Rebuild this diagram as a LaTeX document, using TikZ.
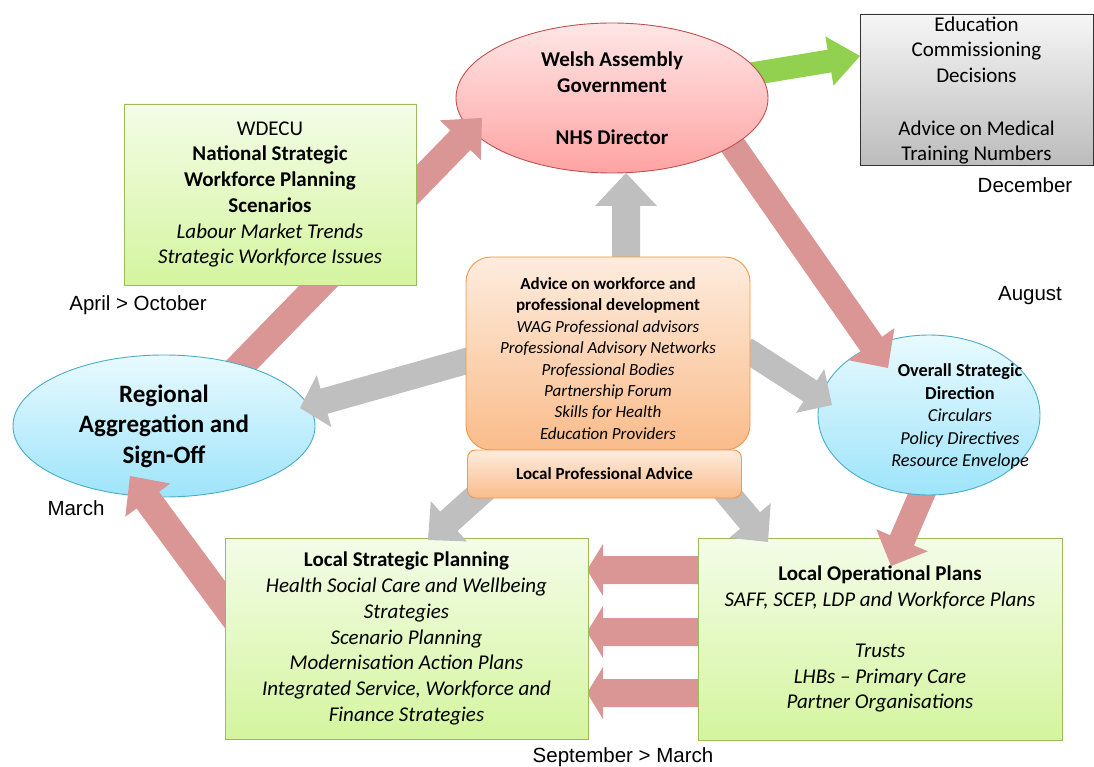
\documentclass[tikz,border=0pt]{standalone}
\usepackage{fontspec}
\setmainfont{Carlito}
\newfontfamily\arialfont{Liberation Sans}
\usetikzlibrary{shapes.geometric,calc}
\definecolor{pinkarr}{RGB}{217,150,148}
\definecolor{greyarr}{RGB}{191,191,191}
\definecolor{greenarr}{RGB}{146,208,80}
\definecolor{wagtop}{RGB}{255,230,230}
\definecolor{wagbot}{RGB}{255,163,163}
\definecolor{wagline}{RGB}{192,80,77}
\definecolor{cyantop}{RGB}{232,250,255}
\definecolor{cyanbot}{RGB}{158,228,250}
\definecolor{cyanline}{RGB}{75,172,198}
\definecolor{grntop}{RGB}{244,252,232}
\definecolor{grnbot}{RGB}{212,245,158}
\definecolor{grnline}{RGB}{155,187,89}
\definecolor{ortop}{RGB}{253,236,222}
\definecolor{orbot}{RGB}{250,188,138}
\definecolor{orline}{RGB}{247,150,70}
\definecolor{gytop}{RGB}{246,246,246}
\definecolor{gybot}{RGB}{188,188,188}
% #1 colour, #2 tail, #3 tip, #4 half shaft width, #5 half head width, #6 head length
\newcommand{\fatarrow}[6]{%
  \fill[#1] ($(#2)!#4!90:(#3)$) -- ($($(#3)!#6!(#2)$)!#4!90:(#3)$)
    -- ($($(#3)!#6!(#2)$)!#5!90:(#3)$) -- (#3)
    -- ($($(#3)!#6!(#2)$)!#5!-90:(#3)$) -- ($($(#3)!#6!(#2)$)!#4!-90:(#3)$)
    -- ($(#2)!#4!-90:(#3)$) -- cycle;}
\begin{document}
\begin{tikzpicture}[x=1pt,y=-1pt,
  gbox/.style={rectangle, draw=grnline, line width=0.9pt, top color=grntop, bottom color=grnbot,
    inner sep=0pt, align=center, text=black, font=\fontsize{21}{25.7}\selectfont},
  obox/.style={rectangle, draw=orline, line width=0.9pt, top color=ortop, bottom color=orbot,
    inner sep=0pt, align=center, text=black},
  cell/.style={ellipse, draw=cyanline, line width=0.9pt, top color=cyantop, bottom color=cyanbot,
    inner sep=0pt},
  lbl/.style={font=\arialfont\fontsize{20.5}{24}\selectfont, text=black, inner sep=0pt}
]
\useasboundingbox (0,0) rectangle (1094,767);
% named end points of the connectors
\coordinate (aTail) at (225,382);  \coordinate (aTip) at (482,118);
\coordinate (bTail) at (722,130);  \coordinate (bTip) at (888,368);
\coordinate (cTail) at (930,475);  \coordinate (cTip) at (891,566);
\coordinate (gTail) at (745,75);   \coordinate (gTip) at (860,56);
\coordinate (eTail) at (240,625);  \coordinate (eTip) at (130,476);
\coordinate (h1Tail) at (705,570); \coordinate (h1Tip) at (587,570);
\coordinate (h2Tail) at (705,632); \coordinate (h2Tip) at (587,632);
\coordinate (h3Tail) at (705,693); \coordinate (h3Tip) at (587,693);
\coordinate (upTail) at (626,262); \coordinate (upTip) at (626,173);
\coordinate (lTail) at (470,360);  \coordinate (lTip) at (300,408);
\coordinate (rTail) at (745,349);  \coordinate (rTip) at (832,405);
\coordinate (dlTail) at (487,487); \coordinate (dlTip) at (428,540);
\coordinate (drTail) at (722,487); \coordinate (drTip) at (768,542);

% local operational plans -> local strategic planning
\fatarrow{pinkarr}{h1Tail}{h1Tip}{14pt}{26pt}{16pt}
\fatarrow{pinkarr}{h2Tail}{h2Tip}{14pt}{26pt}{16pt}
\fatarrow{pinkarr}{h3Tail}{h3Tip}{14pt}{26pt}{16pt}

\node[gbox, minimum width=364pt, minimum height=202pt] (lop) at (880,639)
 {\textbf{Local Operational Plans}\\\textit{SAFF, SCEP, LDP and Workforce Plans}\\[25.7pt]
  \textit{Trusts}\\\textit{LHBs – Primary Care}\\\textit{Partner Organisations}};

\fatarrow{pinkarr}{cTail}{cTip}{13pt}{28pt}{28pt}

\node[cell, minimum width=222pt, minimum height=160pt] (osd) at (929,415) {};
\node[align=center, text=black, inner sep=0pt, font=\fontsize{18.3}{22.5}\selectfont] (osdtext) at (960,417)
 {\textbf{Overall Strategic}\\\textbf{Direction}\\\textit{Circulars}\\\textit{Policy Directives}\\\textit{Resource Envelope}};

\fatarrow{pinkarr}{bTail}{bTip}{13pt}{28pt}{29pt}
\fatarrow{greenarr}{gTail}{gTip}{11.5pt}{25pt}{31pt}

\node[ellipse, draw=wagline, line width=0.9pt, top color=wagtop, bottom color=wagbot,
  minimum width=312pt, minimum height=150pt, inner sep=0pt, align=center, text=black,
  font=\bfseries\fontsize{21}{26}\selectfont] (wag) at (612,98)
 {Welsh Assembly\\Government\\[26pt]NHS Director};

\node[rectangle, draw=black!80, line width=0.9pt, top color=gytop, bottom color=gybot,
  minimum width=233pt, minimum height=151pt, inner sep=0pt, align=center, text=black,
  font=\fontsize{21}{25.5}\selectfont] (ecd) at (976.5,89.5)
 {\rule{0pt}{17pt}Education\\Commissioning\\Decisions\\[27.5pt]Advice on Medical\\Training Numbers};

\fatarrow{pinkarr}{aTail}{aTip}{14pt}{28.5pt}{31pt}

\node[cell, minimum width=302pt, minimum height=142pt, align=center, text=black,
  font=\bfseries\fontsize{25}{30.5}\selectfont] (rag) at (164,426)
 {Regional\\Aggregation and\\Sign-Off};

\node[gbox, minimum width=292pt, minimum height=181pt] (nsw) at (270,194.5)
 {WDECU\\\textbf{National Strategic}\\\textbf{Workforce Planning}\\\textbf{Scenarios}\\
  \textit{Labour Market Trends}\\\textit{Strategic Workforce Issues}};

\fatarrow{pinkarr}{eTail}{eTip}{14pt}{28pt}{30pt}

\node[gbox, minimum width=363pt, minimum height=201pt] (lsp) at (406.5,638.5)
 {\textbf{Local Strategic Planning}\\\textit{Health Social Care and Wellbeing}\\\textit{Strategies}\\
  \textit{Scenario Planning}\\\textit{Modernisation Action Plans}\\
  \textit{Integrated Service, Workforce and}\\\textit{Finance Strategies}};

% grey advice arrows
\fatarrow{greyarr}{upTail}{upTip}{14pt}{31pt}{33pt}
\fatarrow{greyarr}{lTail}{lTip}{13pt}{27pt}{25pt}
\fatarrow{greyarr}{rTail}{rTip}{12.5pt}{26pt}{26pt}
\fatarrow{greyarr}{dlTail}{dlTip}{13pt}{27pt}{28pt}
\fatarrow{greyarr}{drTail}{drTip}{13pt}{27pt}{28pt}

\node[obox, rounded corners=25pt, minimum width=284pt, minimum height=193pt,
  font=\fontsize{17}{21.4}\selectfont] (adv) at (608,353.5)
 {\rule{0pt}{22pt}\textbf{Advice on workforce and}\\\textbf{professional development}\\
  \textit{WAG Professional advisors}\\\textit{Professional Advisory Networks}\\
  \textit{Professional Bodies}\\\textit{Partnership Forum}\\\textit{Skills for Health}\\
  \textit{Education Providers}};
\node[obox, rounded corners=8pt, minimum width=274pt, minimum height=48pt,
  font=\bfseries\fontsize{17}{21}\selectfont] (lpa) at (604.5,474) {Local Professional Advice};

% timing labels
\node[lbl] (dec) at (1025,185) {December};
\node[lbl] (aproct) at (138,305) {April > October};
\node[lbl] (aug) at (1030,296) {August};
\node[lbl] (mar) at (76,508) {March};
\node[lbl] (sepmar) at (623,757) {September > March};
\end{tikzpicture}
\end{document}
